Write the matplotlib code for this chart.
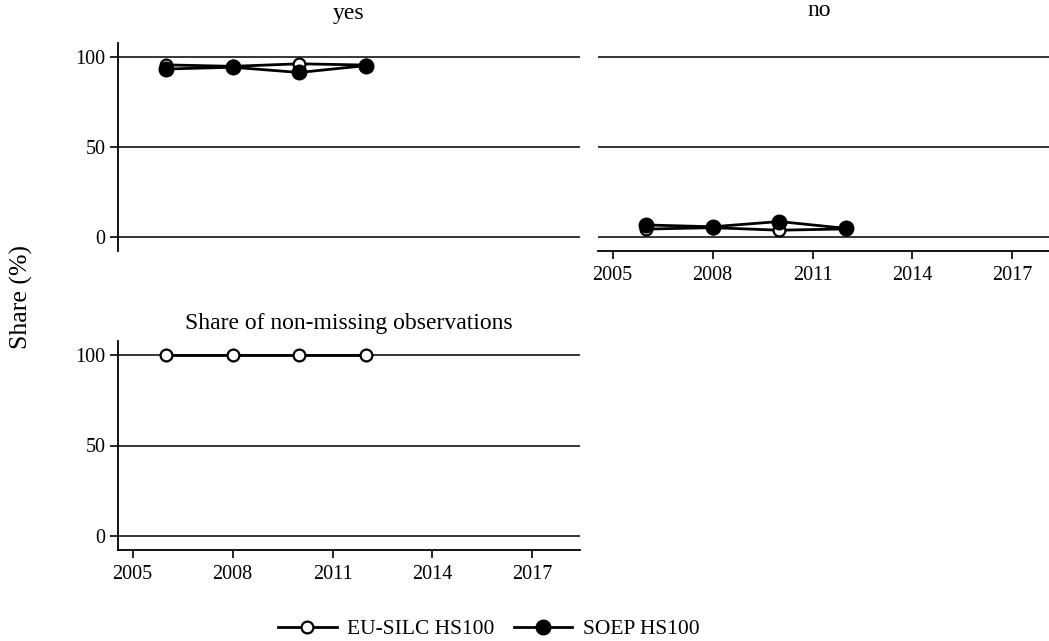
import matplotlib.pyplot as plt

plt.rcParams['font.family'] = ['Liberation Serif', 'DejaVu Serif']

# survey years and shares (%) of answers to HS100
years = [2006, 2008, 2010, 2012]
silc_yes = [95.4, 94.6, 96.0, 95.3]
soep_yes = [93.1, 94.1, 91.2, 95.0]
silc_no = [4.6, 5.4, 4.0, 4.7]
soep_no = [6.9, 5.9, 8.8, 5.0]
silc_nonmissing = [100, 100, 100, 100]

xticks = [2005, 2008, 2011, 2014, 2017]
yticks = [0, 50, 100]

W, H = 1049, 641
fig = plt.figure(figsize=(W / 100, H / 100), dpi=100)


def box(left, top, width, height):
    # pixel box -> figure fraction
    return [left / W, 1 - (top + height) / H, width / W, height / H]


ax_yes = fig.add_axes(box(118, 43, 462, 208))
ax_no = fig.add_axes(box(598, 43, 462, 208))
ax_nm = fig.add_axes(box(118, 341.5, 462, 208))

for ax in (ax_yes, ax_no, ax_nm):
    ax.set_xlim(2004.56, 2018.43)
    ax.set_ylim(-7.5, 107.5)
    ax.set_yticks(yticks)
    ax.set_xticks(xticks)
    for y in yticks:
        ax.axhline(y, color='black', lw=1.1, zorder=1)
    for s in ax.spines.values():
        s.set_visible(False)
    ax.tick_params(labelsize=14.5, length=6, width=1.2, direction='out')
    ax.tick_params(axis='x', pad=5)
    ax.tick_params(axis='y', pad=3)

# yes: y axis only
ax_yes.spines['left'].set_visible(True)
ax_yes.spines['left'].set_linewidth(1.3)
ax_yes.tick_params(axis='x', bottom=False, labelbottom=False)

# no: x axis only
ax_no.spines['bottom'].set_visible(True)
ax_no.spines['bottom'].set_linewidth(1.3)
ax_no.tick_params(axis='y', left=False, labelleft=False)

# non-missing: both axes
ax_nm.spines['left'].set_visible(True)
ax_nm.spines['bottom'].set_visible(True)
ax_nm.spines['left'].set_linewidth(1.3)
ax_nm.spines['bottom'].set_linewidth(1.3)

hollow = dict(color='black', lw=2.0, marker='o', ms=8.5, mfc='white',
              mec='black', mew=1.6, zorder=3)
filled = dict(color='black', lw=2.0, marker='o', ms=10.5, mfc='black',
              mec='black', zorder=4)

ax_yes.plot(years, silc_yes, **hollow)
ax_yes.plot(years, soep_yes, **filled)
ax_no.plot(years, silc_no, **hollow)
ax_no.plot(years, soep_no, **filled)
ax_nm.plot(years, silc_nonmissing, **hollow)

fig.text(349 / W, 1 - 14 / H, 'yes', ha='center', va='center', fontsize=17)
fig.text(819 / W, 1 - 11 / H, 'no', ha='center', va='center', fontsize=17)
fig.text(349 / W, 1 - 324 / H, 'Share of non-missing observations',
         ha='center', va='center', fontsize=17)
fig.text(21 / W, 1 - 297 / H, 'Share (%)', rotation=90, ha='center',
         va='center', fontsize=18.5)

h1, = ax_nm.plot([], [], **hollow)
h2, = ax_nm.plot([], [], **filled)
fig.legend([h1, h2], ['EU-SILC HS100', 'SOEP HS100'], loc='center',
           bbox_to_anchor=(489 / W, 1 - 629 / H), ncol=2, frameon=False,
           fontsize=15.5, handlelength=2.7, columnspacing=0.9,
           handletextpad=0.5, borderpad=0)

fig.savefig('out.png', dpi=100)
